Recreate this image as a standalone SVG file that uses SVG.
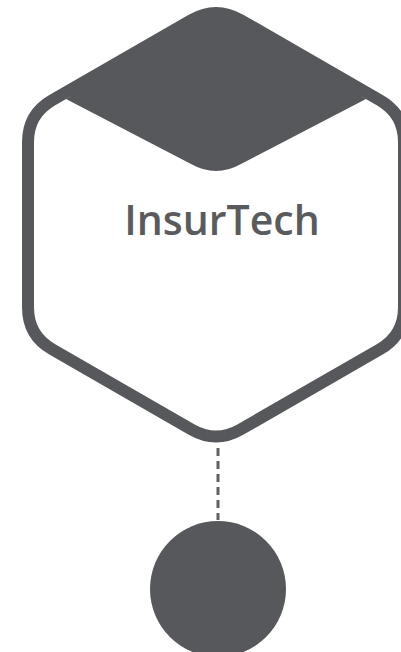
<svg xmlns="http://www.w3.org/2000/svg" width="401" height="652" viewBox="0 0 401 652">
  <style>
    .dark { fill: #56585b; }
    .hex { fill: none; stroke: #56585b; stroke-width: 12; stroke-linejoin: round; }
    .conn { fill: none; stroke: #606164; stroke-width: 3; stroke-dasharray: 8 5; }
    .label { font-family: "Open Sans", "Liberation Sans", sans-serif; font-weight: 600; font-size: 41px; fill: #5a5b5d; text-anchor: middle; }
  </style>
  <rect width="401" height="652" fill="#ffffff"/>
  <g id="insurtech">
    <path class="dark" d="M191.7,19.9 L66,99 L191,164 Q216,178 241,164 L366,99 L240.3,19.9 Q216,6 191.7,19.9 Z"/>
    <path class="hex" d="M191.7,19.9 L52.3,100.1 Q28,114 28,142 L28,307.5 Q28,335.5 52.3,349.4 L191.7,429.6 Q216,443.5 240.3,429.6 L379.7,349.4 Q404,335.5 404,307.5 L404,142 Q404,114 379.7,100.1 L240.3,19.9 Q216,6 191.7,19.9 Z"/>
    <text class="label" x="222" y="235">InsurTech</text>
  </g>
  <g id="connectors">
    <line class="conn" x1="218" y1="448" x2="218" y2="520"/>
  </g>
  <g id="dot">
    <circle class="dark" cx="218" cy="589" r="68"/>
  </g>
</svg>
